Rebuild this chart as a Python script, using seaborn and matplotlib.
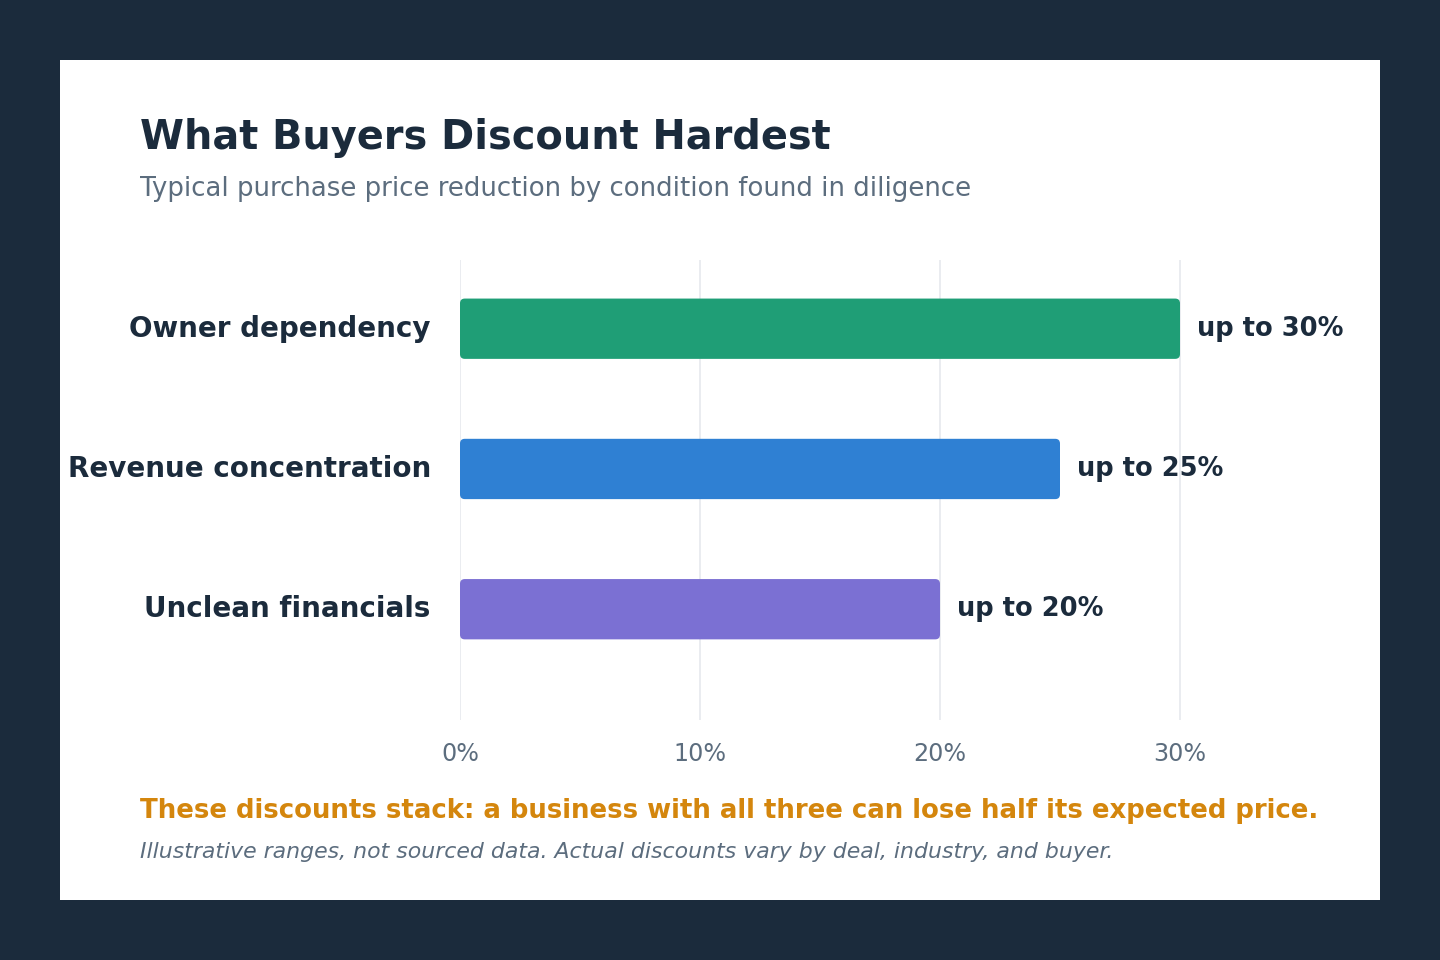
import numpy as np
import pandas as pd
import matplotlib
matplotlib.use("Agg")
import matplotlib.pyplot as plt
from matplotlib.patches import Rectangle, FancyBboxPatch
import seaborn as sns

conditions = ["Owner dependency", "Revenue concentration", "Unclean financials"]
discounts = [30, 25, 20]
bar_colors = ["#1f9e76", "#2f80d3", "#7b70d3"]
ticks = [0, 10, 20, 30]
tick_labels = ["0%", "10%", "20%", "30%"]

NAVY = "#1b2b3c"
GRAY = "#5c6d7e"
ORANGE = "#d4860d"

df = pd.DataFrame({"condition": conditions, "discount": discounts})

sns.set_theme(style="white")
plt.rcParams["font.family"] = ["DejaVu Sans"]

fig = plt.figure(figsize=(14.4, 9.6), dpi=100)
fig.patch.set_facecolor(NAVY)
card = Rectangle((60 / 1440, 60 / 960), 1320 / 1440, 840 / 960,
                 transform=fig.transFigure, facecolor="white",
                 edgecolor="none", zorder=-10)
fig.patches.append(card)

ax = fig.add_axes([460 / 1440, 240 / 960, 864 / 1440, 460 / 960])
ax.set_zorder(1)
ax.set_facecolor("none")
sns.barplot(data=df, y="condition", x="discount", hue="condition",
            palette=bar_colors, width=0.43, legend=False, ax=ax,
            saturation=1, zorder=3)

# rounded bar corners
for p in list(ax.patches):
    x0, y0, w, h = p.get_x(), p.get_y(), p.get_width(), p.get_height()
    fc = p.get_facecolor()
    p.remove()
    ax.add_patch(FancyBboxPatch((x0, y0), w, h,
                                boxstyle="round,pad=0,rounding_size=0.2",
                                mutation_aspect=0.171, facecolor=fc,
                                edgecolor="none", zorder=3))

ax.set_xlim(0, 36)
ax.set_ylim(2.79, -0.49)
ax.set_xticks(ticks)
ax.set_xticklabels(tick_labels, fontsize=17.2, color=GRAY)
ax.tick_params(axis="x", length=0, pad=16)
ax.tick_params(axis="y", length=0, pad=21)
ax.set_yticks(range(len(conditions)))
ax.set_yticklabels(conditions, fontsize=20, fontweight="bold", color=NAVY,
                   va="center")
ax.xaxis.grid(True, color="#e6e9ee", linewidth=1.2, zorder=0)
ax.set_axisbelow(True)
for s in ax.spines.values():
    s.set_visible(False)
ax.set_xlabel("")
ax.set_ylabel("")

for i, v in enumerate(discounts):
    ax.annotate(f"up to {v}%", (v, i), xytext=(12, 0), textcoords="offset points",
                va="center", ha="left", fontsize=18.5, fontweight="bold", color=NAVY)

fig.text(140 / 1440, 1 - 138 / 960, "What Buyers Discount Hardest", fontsize=28.7,
         fontweight="bold", color=NAVY, va="center", ha="left")
fig.text(140 / 1440, 1 - 189 / 960,
         "Typical purchase price reduction by condition found in diligence",
         fontsize=18.7, color=GRAY, va="center", ha="left")
fig.text(140 / 1440, 1 - 811 / 960,
         "These discounts stack: a business with all three can lose half its expected price.",
         fontsize=18.7, fontweight="bold", color=ORANGE, va="center", ha="left")
fig.text(140 / 1440, 1 - 852 / 960,
         "Illustrative ranges, not sourced data. Actual discounts vary by deal, industry, and buyer.",
         fontsize=15.8, fontstyle="italic", color=GRAY, va="center", ha="left")

fig.savefig("out.png", dpi=100, facecolor=NAVY)
